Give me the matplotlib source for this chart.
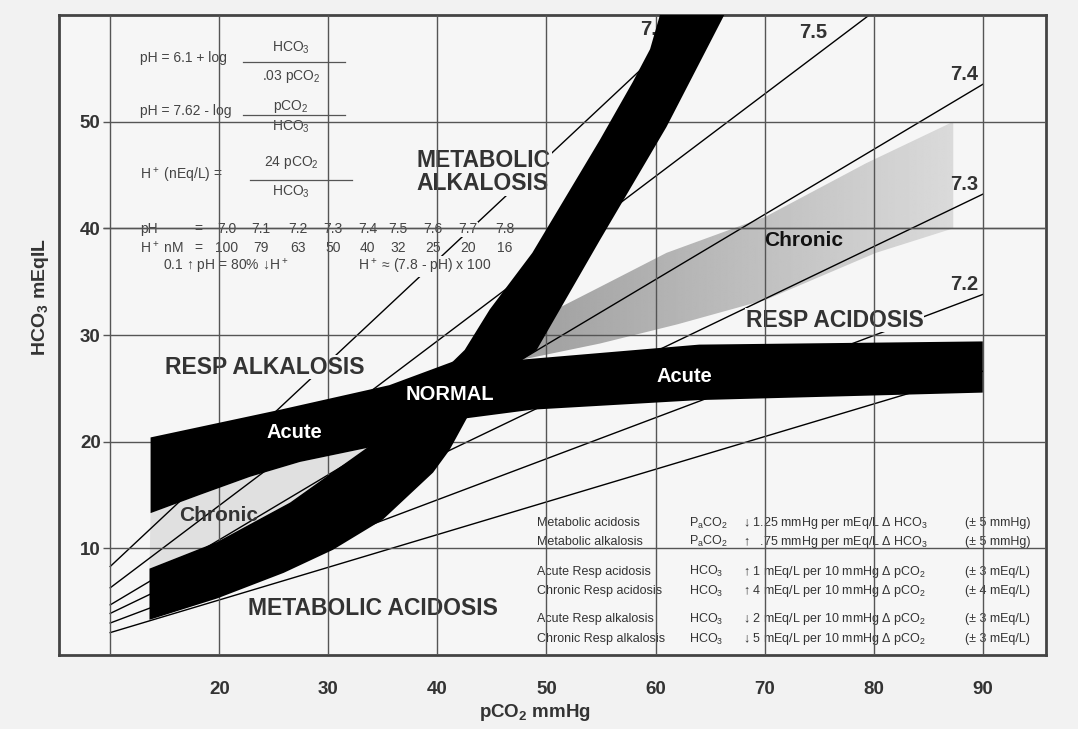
import numpy as np
import matplotlib.pyplot as plt
from matplotlib.patches import Polygon

plt.rcParams['font.family'] = ['Liberation Sans', 'DejaVu Sans']
plt.rcParams['mathtext.default'] = 'regular'

# axes
pco2_ticks = [20, 30, 40, 50, 60, 70, 80, 90]
hco3_ticks = [10, 20, 30, 40, 50]

# pH isopleths, start / end points
iso_ph = ['7.1', '7.2', '7.3', '7.4', '7.5', '7.6']
iso_x0 = [10, 10, 10, 10, 10, 10]
iso_y0 = [2.1, 3.0, 3.9, 4.7, 6.3, 8.3]
iso_x1 = [90, 90, 90, 90, 79.6, 64.0]
iso_y1 = [26.6, 33.8, 43.2, 53.5, 60.0, 60.0]

# acute respiratory band (alkalosis left, acidosis right)
acute_top_x = [13.7, 25.6, 35.6, 41.4, 47.8, 64.0, 90.0]
acute_top_y = [20.4, 23.0, 25.3, 27.5, 27.7, 29.1, 29.4]
acute_bot_x = [90.0, 64.0, 48.7, 42.7, 36.0, 33.5, 27.4, 22.8, 18.2, 13.7]
acute_bot_y = [24.6, 23.9, 23.0, 22.2, 20.3, 19.4, 18.1, 16.7, 15.0, 13.3]

# metabolic band (acidosis bottom left, alkalosis top)
met_left_x = [13.6, 19.8, 26.5, 33.5, 38.0, 41.4, 42.5, 44.8, 48.7, 54.9, 57.9, 59.5, 60.4]
met_left_y = [8.1, 10.6, 14.3, 19.4, 24.0, 27.5, 28.6, 32.4, 37.7, 48.3, 53.7, 56.8, 60.0]
met_right_x = [66.3, 61.0, 54.9, 49.1, 47.8, 42.7, 41.1, 39.6, 35.0, 30.4, 25.9, 19.8, 13.6]
met_right_y = [60.0, 49.5, 38.9, 28.6, 27.7, 22.2, 19.2, 17.1, 12.7, 9.85, 7.7, 5.3, 3.3]

# chronic respiratory alkalosis wedge
chr_alk_x = [13.7, 18.2, 22.8, 27.4, 33.5, 26.5, 19.8, 13.6]
chr_alk_y = [13.3, 15.0, 16.7, 18.1, 19.4, 14.3, 10.6, 8.1]

# chronic respiratory acidosis band
chr_acid_top_x = [47.8, 50.3, 54.9, 61.0, 70.1, 79.3, 87.3]
chr_acid_top_y = [27.7, 32.1, 34.5, 37.7, 41.1, 46.1, 50.0]
chr_acid_bot_x = [87.3, 80.2, 70.1, 62.0, 54.9, 47.8]
chr_acid_bot_y = [40.0, 37.7, 33.3, 31.0, 29.2, 27.7]

# pH / H+ table
tab_ph = ['7.0', '7.1', '7.2', '7.3', '7.4', '7.5', '7.6', '7.7', '7.8']
tab_h = ['100', '79', '63', '50', '40', '32', '25', '20', '16']

# compensation rules
rule_name = ['Metabolic acidosis', 'Metabolic alkalosis', 'Acute Resp acidosis',
             'Chronic Resp acidosis', 'Acute Resp alkalosis', 'Chronic Resp alkalosis']
rule_var = ['P$_a$CO$_2$', 'P$_a$CO$_2$', 'HCO$_3$', 'HCO$_3$', 'HCO$_3$', 'HCO$_3$']
rule_desc = ['\u2193 1.25 mmHg per mEq/L \u0394 HCO$_3$',
             '\u2191   .75 mmHg per mEq/L \u0394 HCO$_3$',
             '\u2191 1 mEq/L per 10 mmHg \u0394 pCO$_2$',
             '\u2191 4 mEq/L per 10 mmHg \u0394 pCO$_2$',
             '\u2193 2 mEq/L per 10 mmHg \u0394 pCO$_2$',
             '\u2193 5 mEq/L per 10 mmHg \u0394 pCO$_2$']
rule_tol = ['(\u00b1 5 mmHg)', '(\u00b1 5 mmHg)', '(\u00b1 3 mEq/L)',
            '(\u00b1 4 mEq/L)', '(\u00b1 3 mEq/L)', '(\u00b1 3 mEq/L)']

bg = '#f6f6f6'
ink = '#333333'

fig = plt.figure(figsize=(10.78, 7.29), dpi=100, facecolor='#f2f2f2')
ax = fig.add_axes([0.0547, 0.1015, 0.9156, 0.8779], facecolor=bg)
xmin, xmax, ymin, ymax = 5.3, 95.8, 0, 60
ax.set_xlim(xmin, xmax)
ax.set_ylim(ymin, ymax)

# grid
ax.vlines([10] + pco2_ticks, ymin, ymax, color='#555555', lw=1.0, zorder=4)
ax.hlines(hco3_ticks, 9.3, xmax, color='#555555', lw=1.0, zorder=4)

# chronic bands (gray)
ax.add_patch(Polygon(np.column_stack([chr_alk_x, chr_alk_y]), closed=True,
                     facecolor='#e0e0e0', edgecolor='none', zorder=1.5))
acid_poly = Polygon(np.column_stack([chr_acid_top_x + chr_acid_bot_x,
                                     chr_acid_top_y + chr_acid_bot_y]),
                    closed=True, facecolor='none', edgecolor='none')
ax.add_patch(acid_poly)
grad = np.linspace(0.62, 0.86, 256).reshape(1, -1)
im = ax.imshow(grad, cmap='gray', vmin=0, vmax=1, aspect='auto',
               extent=[47, 88, 27, 51], zorder=1.5, interpolation='bilinear')
im.set_clip_path(acid_poly)
ax.set_xlim(xmin, xmax)
ax.set_ylim(ymin, ymax)

# pH isopleths
for x0, y0, x1, y1 in zip(iso_x0, iso_y0, iso_x1, iso_y1):
    ax.plot([x0, x1], [y0, y1], color='black', lw=1.0, zorder=2)

# black bands
ax.add_patch(Polygon(np.column_stack([acute_top_x + acute_bot_x,
                                      acute_top_y + acute_bot_y]),
                     closed=True, facecolor='black', edgecolor='none', zorder=5))
ax.add_patch(Polygon(np.column_stack([met_left_x + met_right_x,
                                      met_left_y + met_right_y]),
                     closed=True, facecolor='black', edgecolor='none', zorder=5))

box = dict(facecolor=bg, edgecolor='none', pad=0.6)

# isopleth labels ("7.6" sits partly under the band, as in the original)
iso_lab = {'7.6': (58.6, 58.6, 'left'), '7.5': (74.5, 58.4, 'center'),
           '7.4': (88.3, 54.4, 'center'), '7.3': (88.3, 44.1, 'center'),
           '7.2': (88.3, 34.7, 'center')}
for lab, (tx, ty, ha) in iso_lab.items():
    ax.text(tx, ty, lab, ha=ha, va='center', fontsize=14.5, fontweight='bold',
            color=ink, zorder=3)

# region labels
big = dict(fontsize=16.5, fontweight='bold', color=ink, va='center', zorder=3)
ax.text(38.1, 45.3, 'METABOLIC\nALKALOSIS', ha='left', linespacing=1.0,
        bbox=box, **big)
ax.text(24.2, 27.0, 'RESP ALKALOSIS', ha='center', bbox=box, **big)
ax.text(76.4, 31.4, 'RESP ACIDOSIS', ha='center', bbox=box, **big)
ax.text(34.1, 4.4, 'METABOLIC ACIDOSIS', ha='center', bbox=box, **big)

white = dict(fontsize=14.5, fontweight='bold', color='white', ha='center',
             va='center', zorder=6)
ax.text(41.1, 24.4, 'NORMAL', **white)
ax.text(26.9, 20.9, 'Acute', **white)
ax.text(62.6, 26.1, 'Acute', **white)
ax.text(19.9, 13.1, 'Chronic', ha='center', va='center', fontsize=15,
        fontweight='bold', color=ink, zorder=6)
ax.text(73.6, 38.9, 'Chronic', ha='center', va='center', fontsize=15,
        fontweight='bold', color='#111111', zorder=6)

# formulas
small = dict(fontsize=10, color='#444444', va='center', zorder=3)
fx = 26.6
ax.text(12.75, 56.0, 'pH = 6.1 + log', ha='left', **small)
ax.text(fx, 56.9, 'HCO$_3$', ha='center', **small)
ax.plot([22.2, 31.5], [55.6, 55.6], color='#555555', lw=0.9, zorder=3)
ax.text(fx, 54.2, '.03 pCO$_2$', ha='center', **small)

ax.text(12.75, 51.0, 'pH = 7.62 - log', ha='left', **small)
ax.text(fx, 51.4, 'pCO$_2$', ha='center', **small)
ax.plot([22.2, 31.5], [50.6, 50.6], color='#555555', lw=0.9, zorder=3)
ax.text(fx, 49.5, 'HCO$_3$', ha='center', **small)

ax.text(12.75, 45.0, 'H$^+$ (nEq/L) =', ha='left', **small)
ax.text(fx, 46.2, '24 pCO$_2$', ha='center', **small)
ax.plot([22.8, 32.2], [44.5, 44.5], color='#555555', lw=0.9, zorder=3)
ax.text(fx, 43.4, 'HCO$_3$', ha='center', **small)

col_x = [20.7, 23.8, 27.2, 30.4, 33.6, 36.4, 39.6, 42.8, 46.2]
ax.text(12.75, 39.9, 'pH', ha='left', **small)
ax.text(18.05, 39.9, '=', ha='center', **small)
ax.text(12.75, 38.2, 'H$^+$ nM', ha='left', **small)
ax.text(18.05, 38.2, '=', ha='center', **small)
for cx, p, h in zip(col_x, tab_ph, tab_h):
    ax.text(cx, 39.9, p, ha='center', bbox=dict(facecolor=bg, edgecolor='none', pad=0.3), **small)
    ax.text(cx, 38.2, h, ha='center', bbox=dict(facecolor=bg, edgecolor='none', pad=0.3), **small)
ax.text(14.85, 36.4, '0.1 \u2191 pH = 80% \u2193H$^+$', ha='left', **small)
ax.text(32.7, 36.4, 'H$^+$ \u2248 (7.8 - pH) x 100', ha='left', bbox=box, **small)
# keep the grid line over the pH row
ax.hlines([40], 9.3, xmax, color='#555555', lw=1.0, zorder=4)

# compensation rules
tiny = dict(fontsize=9, color='#333333', va='center', ha='left', zorder=3)
rule_y = [12.35, 10.6, 7.8, 6.0, 3.35, 1.5]
for ry, n, v, d, t in zip(rule_y, rule_name, rule_var, rule_desc, rule_tol):
    ax.text(49.1, ry, n, **tiny)
    ax.text(63.1, ry, v, **tiny)
    ax.text(68.0, ry, d, **tiny)
    ax.text(88.4, ry, t, **tiny)

# ticks and labels
ax.set_xticks(pco2_ticks)
ax.set_yticks(hco3_ticks)
ax.tick_params(axis='x', length=0, pad=19, labelsize=13.5, labelcolor=ink)
ax.tick_params(axis='y', length=0, pad=-30, labelsize=13.5, labelcolor=ink)
for lab in ax.get_xticklabels() + ax.get_yticklabels():
    lab.set_fontweight('bold')
ax.set_xlabel('pCO$_2$ mmHg', fontsize=13.5, fontweight='bold', color=ink)
ax.set_ylabel('HCO$_3$ mEqIL', fontsize=14, fontweight='bold', color=ink)
ax.xaxis.set_label_coords(0.482, -0.074)
ax.yaxis.set_label_coords(-0.008, 0.56)

for s in ax.spines.values():
    s.set_linewidth(2)
    s.set_color('#444444')

fig.savefig('out.png', dpi=100, facecolor=fig.get_facecolor())
